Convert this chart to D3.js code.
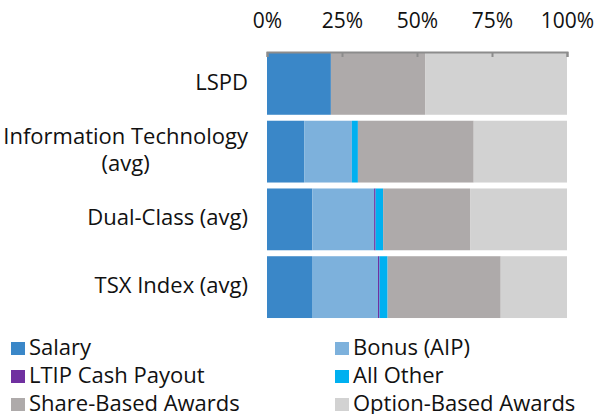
<!DOCTYPE html>
<html>
<head>
<meta charset="utf-8">
<script src="https://cdn.jsdelivr.net/npm/d3@7"></script>
<style>
  body { margin: 0; background: #fff; }
  svg text { font-family: "Open Sans", sans-serif; fill: #111; }
</style>
</head>
<body>
<div id="chart"></div>
<script>
const width = 596;
const height = 414;

// ******** DATA (percent of total pay) ********
const categories = ["LSPD", "Information Technology\n(avg)", "Dual-Class (avg)", "TSX Index (avg)"];
const series = ["Salary", "Bonus (AIP)", "LTIP Cash Payout", "All Other", "Share-Based Awards", "Option-Based Awards"];
const salary = [21.3, 12.4, 15.1, 15.0];
const bonus = [0, 15.9, 20.6, 22.0];
const ltip = [0, 0, 0.5, 0.5];
const allOther = [0, 2.0, 2.5, 2.7];
const shareBased = [31.4, 38.6, 29.0, 37.7];
const optionBased = [47.3, 31.1, 32.3, 22.1];
const tickValues = [0, 25, 50, 75, 100];

const colors = ["#3a87c8", "#7db1dc", "#7030a0", "#00b0f0", "#aeaaaa", "#d2d2d2"];

var rows = categories.map(function(c, i){
  return {
    cat: c,
    "Salary": salary[i],
    "Bonus (AIP)": bonus[i],
    "LTIP Cash Payout": ltip[i],
    "All Other": allOther[i],
    "Share-Based Awards": shareBased[i],
    "Option-Based Awards": optionBased[i]
  };
});

var svg = d3.select("#chart").append("svg")
  .attr("width", width)
  .attr("height", height);

// ******** SCALES ********
var x = d3.scaleLinear().domain([0, 100]).range([267, 567]);
var y = d3.scaleBand().domain(categories).range([50, 321])
  .paddingInner(0.088).paddingOuter(0.044);
var color = d3.scaleOrdinal().domain(series).range(colors);

var stacked = d3.stack().keys(series)(rows);

// ******** BARS ********
svg.append("g").selectAll("g")
  .data(stacked)
  .enter().append("g")
  .attr("fill", function(d){ return color(d.key); })
  .selectAll("rect")
  .data(function(d){ return d; })
  .enter().append("rect")
  .attr("x", function(d){ return x(d[0]); })
  .attr("y", function(d){ return y(d.data.cat); })
  .attr("width", function(d){ return x(d[1]) - x(d[0]); })
  .attr("height", y.bandwidth());

// ******** X AXIS (top) ********
var xAxis = d3.axisTop(x)
  .tickValues(tickValues)
  .tickFormat(function(d){ return d + "%"; })
  .tickSizeInner(-5)
  .tickSizeOuter(-5)
  .tickPadding(24);

var gx = svg.append("g")
  .attr("transform", "translate(0, 52)")
  .call(xAxis);
gx.selectAll("path, line").attr("stroke", "#8c8c8c").attr("stroke-width", 2);
gx.selectAll("text")
  .style("font-size", "21px")
  .style("font-family", "'Open Sans', sans-serif")
  .attr("fill", "#111");

// ******** CATEGORY LABELS ********
var labels = svg.append("g").selectAll("text")
  .data(categories)
  .enter().append("text")
  .style("font-size", "22px")
  .attr("text-anchor", "middle");

labels.each(function(c){
  var lines = c.split("\n");
  var t = d3.select(this);
  lines.forEach(function(l){
    t.append("tspan").text(l);
  });
  // widest line is right-aligned, others centred under it
  var w = 0;
  t.selectAll("tspan").each(function(){ w = Math.max(w, this.getComputedTextLength()); });
  var cx = 248 - w / 2;
  var cy = y(c) + y.bandwidth() / 2;
  var lh = 27;
  t.selectAll("tspan")
    .attr("x", cx)
    .attr("y", function(d, i){ return cy + 6 + (i - (lines.length - 1) / 2) * lh; });
});

// ******** LEGEND ********
var legend = svg.append("g").selectAll("g")
  .data(series)
  .enter().append("g")
  .attr("transform", function(d, i){
    return "translate(" + (i % 2 === 0 ? 11 : 335) + "," + (355 + Math.floor(i / 2) * 28) + ")";
  });
legend.append("rect")
  .attr("x", 0)
  .attr("y", -13)
  .attr("width", 14)
  .attr("height", 13)
  .attr("fill", function(d){ return color(d); });
legend.append("text")
  .attr("x", 18)
  .attr("y", 0)
  .style("font-size", "22px")
  .text(function(d){ return d; });
</script>
</body>
</html>
